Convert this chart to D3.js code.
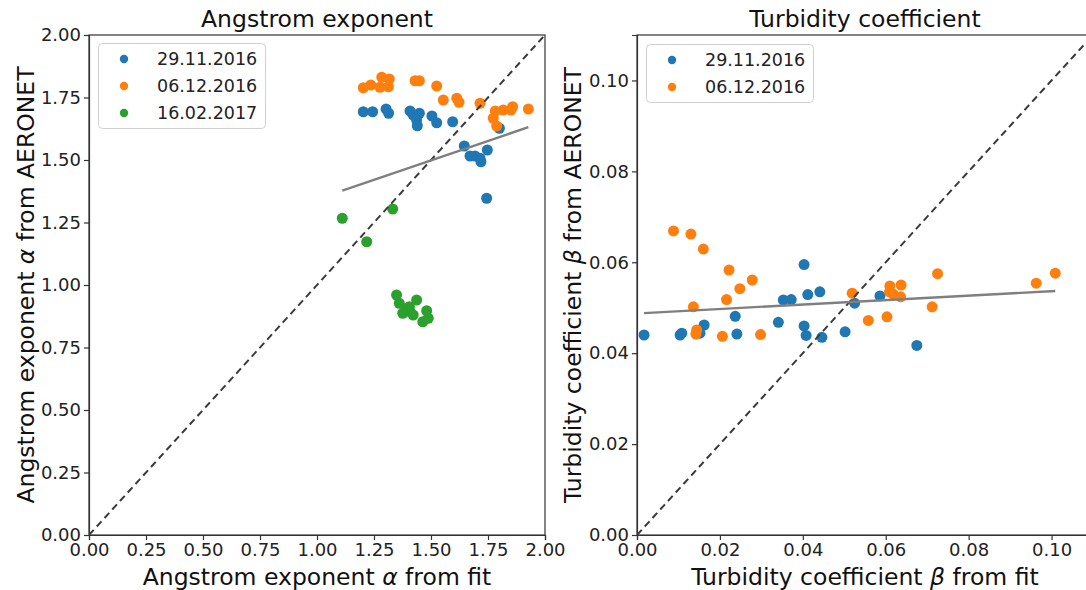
<!DOCTYPE html>
<html>
<head>
<meta charset="utf-8">
<script src="https://cdn.jsdelivr.net/npm/d3@7"></script>
<style>
  html, body { margin: 0; padding: 0; background: #fff; }
  svg { display: block; font-family: "DejaVu Sans", sans-serif; }
</style>
</head>
<body>
<svg id="chart" width="1086" height="590"></svg>
<script>
// ---- Angstrom exponent (alpha): fit vs AERONET ----
const dates = ["29.11.2016", "06.12.2016", "16.02.2017"];
const colors = ["#1f77b4", "#ff7f0e", "#2ca02c"];

const alphaFit_291116 = [1.203, 1.244, 1.303, 1.314, 1.408, 1.422, 1.449, 1.437, 1.440, 1.504,
                         1.525, 1.595, 1.800, 1.646, 1.671, 1.693, 1.715, 1.719, 1.747, 1.744];
const alphaAer_291116 = [1.693, 1.693, 1.704, 1.687, 1.696, 1.680, 1.687, 1.660, 1.637, 1.676,
                         1.649, 1.653, 1.627, 1.556, 1.516, 1.516, 1.507, 1.493, 1.540, 1.347];

const alphaFit_061216 = [1.203, 1.236, 1.284, 1.276, 1.317, 1.313, 1.430, 1.449, 1.525, 1.554,
                         1.613, 1.623, 1.715, 1.782, 1.817, 1.851, 1.858, 1.927, 1.773, 1.788];
const alphaAer_061216 = [1.789, 1.800, 1.831, 1.791, 1.824, 1.793, 1.817, 1.817, 1.796, 1.740,
                         1.747, 1.731, 1.727, 1.696, 1.700, 1.700, 1.713, 1.704, 1.667, 1.636];

const alphaFit_160217 = [1.111, 1.332, 1.218, 1.349, 1.361, 1.437, 1.405, 1.390, 1.376, 1.422,
                         1.481, 1.488, 1.464, 1.408];
const alphaAer_160217 = [1.267, 1.304, 1.173, 0.960, 0.927, 0.940, 0.913, 0.903, 0.887, 0.880,
                         0.897, 0.867, 0.853, 0.893];

// linear fit through all alpha points: [slope, intercept]
const alphaTrend = [0.311, 1.032];

// ---- Turbidity coefficient (beta): fit vs AERONET ----
const betaFit_291116 = [0.0017, 0.0104, 0.0108, 0.0152, 0.0162, 0.0237, 0.0241, 0.0341, 0.0353, 0.0372,
                        0.0403, 0.0412, 0.0441, 0.0403, 0.0408, 0.0446, 0.0502, 0.0525, 0.0586, 0.0675];
const betaAer_291116 = [0.0440, 0.0440, 0.0444, 0.0444, 0.0462, 0.0481, 0.0442, 0.0468, 0.0517, 0.0518,
                        0.0595, 0.0529, 0.0535, 0.0460, 0.0439, 0.0435, 0.0447, 0.0510, 0.0526, 0.0417];

const betaFit_061216 = [0.0088, 0.0130, 0.0160, 0.0222, 0.0278, 0.0248, 0.0216, 0.0136, 0.0144, 0.0142,
                        0.0206, 0.0298, 0.0519, 0.0610, 0.0637, 0.0725, 0.0609, 0.0618, 0.0636, 0.0558,
                        0.0603, 0.0712, 0.0963, 0.1009];
const betaAer_061216 = [0.0669, 0.0662, 0.0629, 0.0583, 0.0561, 0.0542, 0.0518, 0.0502, 0.0451, 0.0442,
                        0.0437, 0.0441, 0.0532, 0.0548, 0.0550, 0.0575, 0.0535, 0.0530, 0.0524, 0.0472,
                        0.0480, 0.0502, 0.0554, 0.0576];

const betaTrend = [0.0491, 0.04873];

const alphaTicks = [0, 0.25, 0.5, 0.75, 1.0, 1.25, 1.5, 1.75, 2.0];
const betaTicks = [0, 0.02, 0.04, 0.06, 0.08, 0.10];

const svg = d3.select("#chart");

function panel(cfg) {
  const { left, top, width, height, domain, ticks, fmt, series, trend, title, xLabel, yLabel, yLabelX, legend } = cfg;
  const x = d3.scaleLinear().domain(domain).range([left, left + width]);
  const y = d3.scaleLinear().domain(domain).range([top + height, top]);
  const g = svg.append("g");

  // clip for marks inside the axes
  const clipId = "clip" + left;
  svg.append("clipPath").attr("id", clipId)
    .append("rect").attr("x", left).attr("y", top).attr("width", width).attr("height", height);

  // frame
  g.append("rect").attr("x", left).attr("y", top).attr("width", width).attr("height", height)
    .attr("fill", "none").attr("stroke", "#333").attr("stroke-width", 1.2);

  // axes
  const xAxis = d3.axisBottom(x).tickValues(ticks).tickFormat(fmt).tickSizeOuter(0).tickSize(5).tickPadding(3);
  const yAxis = d3.axisLeft(y).tickValues(ticks).tickFormat(fmt).tickSizeOuter(0).tickSize(5).tickPadding(3);
  const gx = g.append("g").attr("transform", `translate(0,${top + height})`).call(xAxis);
  const gy = g.append("g").attr("transform", `translate(${left},0)`).call(yAxis);
  [gx, gy].forEach(a => {
    a.select(".domain").attr("stroke", "#333").attr("stroke-width", 1.2);
    a.selectAll(".tick line").attr("stroke", "#333").attr("stroke-width", 1.2);
    a.selectAll(".tick text").attr("font-size", 18).attr("fill", "#222")
      .attr("font-family", "DejaVu Sans, sans-serif");
  });

  const marks = g.append("g").attr("clip-path", `url(#${clipId})`);

  // points
  series.forEach((s, i) => {
    marks.append("g").selectAll("circle")
      .data(d3.zip(s.x, s.y))
      .join("circle")
      .attr("cx", d => x(d[0]))
      .attr("cy", d => y(d[1]))
      .attr("r", 5.5)
      .attr("fill", colors[i]);
  });

  // 1:1 line
  marks.append("line")
    .attr("x1", x(domain[0])).attr("y1", y(domain[0]))
    .attr("x2", x(domain[1])).attr("y2", y(domain[1]))
    .attr("stroke", "#3a3a3a").attr("stroke-width", 2).attr("stroke-dasharray", "7,4.5");

  // linear trend over the full x extent of the data
  const allX = series.flatMap(s => s.x);
  const [xmin, xmax] = d3.extent(allX);
  marks.append("line")
    .attr("x1", x(xmin)).attr("y1", y(trend[0] * xmin + trend[1]))
    .attr("x2", x(xmax)).attr("y2", y(trend[0] * xmax + trend[1]))
    .attr("stroke", "#7f7f7f").attr("stroke-width", 2.4);

  // title
  g.append("text").attr("x", left + width / 2).attr("y", 27)
    .attr("text-anchor", "middle").attr("font-size", 23.5).attr("fill", "#111").text(title);

  // x label
  g.append("text").attr("x", left + width / 2).attr("y", 585)
    .attr("text-anchor", "middle").attr("font-size", 23.5).attr("fill", "#111").call(xLabel);

  // y label
  g.append("text").attr("transform", `translate(${yLabelX},${top + height / 2}) rotate(-90)`)
    .attr("text-anchor", "middle").attr("font-size", 23.5).attr("fill", "#111").call(yLabel);

  // legend
  const lg = g.append("g");
  lg.append("rect").attr("x", legend.x).attr("y", legend.y)
    .attr("width", legend.w).attr("height", 31 + (series.length - 1) * 27)
    .attr("rx", 4).attr("fill", "#fff").attr("fill-opacity", 0.8)
    .attr("stroke", "#d0d0d0").attr("stroke-width", 1);
  series.forEach((s, i) => {
    const cy = legend.y + 15.5 + i * 27;
    lg.append("circle").attr("cx", legend.x + 25.5).attr("cy", cy).attr("r", 4.2).attr("fill", colors[i]);
    lg.append("text").attr("x", legend.x + 58.5).attr("y", cy + 6.3)
      .attr("font-size", 17.5).attr("fill", "#222").text(dates[i]);
  });
}

function labelWithSymbol(before, sym, after) {
  return sel => {
    sel.append("tspan").text(before);
    sel.append("tspan").attr("font-style", "italic").text(sym);
    sel.append("tspan").text(after);
  };
}

panel({
  left: 89, top: 35, width: 456, height: 500,
  domain: [0, 2], ticks: alphaTicks, fmt: d3.format(".2f"),
  series: [
    { x: alphaFit_291116, y: alphaAer_291116 },
    { x: alphaFit_061216, y: alphaAer_061216 },
    { x: alphaFit_160217, y: alphaAer_160217 }
  ],
  trend: alphaTrend,
  title: "Angstrom exponent",
  xLabel: labelWithSymbol("Angstrom exponent ", "α", " from fit"),
  yLabel: labelWithSymbol("Angstrom exponent ", "α", " from AERONET"),
  yLabelX: 34,
  legend: { x: 98.5, y: 43.5, w: 167 }
});

panel({
  left: 637, top: 35, width: 456, height: 500,
  domain: [0, 0.11], ticks: betaTicks, fmt: d3.format(".2f"),
  series: [
    { x: betaFit_291116, y: betaAer_291116 },
    { x: betaFit_061216, y: betaAer_061216 }
  ],
  trend: betaTrend,
  title: "Turbidity coefficient",
  xLabel: labelWithSymbol("Turbidity coefficient ", "β", " from fit"),
  yLabel: labelWithSymbol("Turbidity coefficient ", "β", " from AERONET"),
  yLabelX: 581,
  legend: { x: 646.5, y: 44.5, w: 167 }
});
</script>
</body>
</html>
